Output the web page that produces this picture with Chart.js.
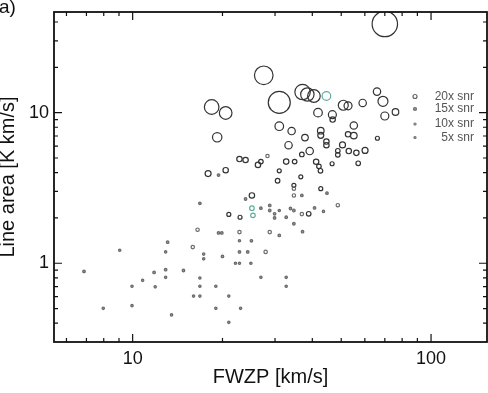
<!DOCTYPE html>
<html>
<head>
<meta charset="utf-8">
<script src="https://cdn.jsdelivr.net/npm/chart.js@4/dist/chart.umd.min.js"></script>
<style>
  body { margin: 0; background: #fff; }
  canvas { display: block; }
</style>
</head>
<body>
<canvas id="snrChart" width="488" height="393"></canvas>
<script>
// FWZP [km/s], line area [K km/s], signal-to-noise ratio
const fwzp = [70.0, 27.5, 31.0, 18.4, 20.5, 37.1, 38.5, 40.5, 50.8, 52.7, 59.0, 65.9, 69.0, 76.0, 70.0, 41.8, 46.7, 46.8,
    19.2, 31.0, 34.1, 37.8, 42.7, 42.7, 44.6, 44.6, 33.3, 39.2, 55.1, 52.7, 55.1, 50.5, 48.7, 48.7, 53.0, 56.2, 60.1, 57.0,
    46.6, 66.1, 41.2, 42.1, 42.6, 36.9, 34.9, 32.7, 31.0, 30.6, 28.3, 26.9, 26.3, 23.9, 22.8, 20.5, 19.4, 17.9, 25.1, 23.9,
    34.7, 34.7, 36.6, 42.7, 44.8, 34.7, 36.9, 48.7, 40.7, 43.6, 38.9, 36.9, 33.8, 34.7, 32.7, 31.0, 29.9, 29.9, 28.8, 28.8,
    26.9, 22.9, 21.0, 34.7, 37.1, 31.0, 28.8, 25.0, 22.8, 22.8, 16.5, 19.4, 19.9, 16.8, 15.9, 22.8, 24.3, 27.9, 20.0, 17.3,
    17.3, 22.1, 22.8, 24.9, 13.1, 12.9, 12.9, 12.9, 14.8, 11.8, 10.8, 11.9, 9.95, 9.05, 6.87, 7.97, 9.95, 13.5, 16.0, 16.8,
    16.8, 16.8, 19.0, 19.0, 21.0, 21.0, 23.0, 26.9, 32.7, 32.7];
const lineArea = [38.8, 17.7, 11.7, 10.9, 9.95, 13.7, 13.2, 12.9, 11.2, 11.1, 11.6, 13.8, 11.9, 10.1, 9.5, 10.0, 9.7, 9.0,
    6.86, 8.13, 7.55, 6.83, 7.59, 7.07, 6.43, 6.08, 6.08, 5.56, 8.22, 7.18, 7.04, 6.11, 5.58, 5.25, 5.56, 5.41, 5.61, 4.61,
    4.58, 6.76, 4.72, 4.40, 4.11, 5.28, 4.73, 4.73, 4.11, 3.53, 5.15, 4.73, 4.50, 4.85, 4.92, 4.15, 3.85, 3.94, 2.82, 2.67,
    3.29, 3.13, 3.75, 3.13, 2.92, 2.82, 2.82, 2.43, 2.33, 2.21, 2.13, 2.12, 2.31, 2.24, 2.02, 2.24, 2.13, 2.00, 2.42, 2.24,
    2.32, 2.02, 2.11, 1.83, 1.62, 1.53, 1.61, 1.41, 1.61, 1.41, 1.67, 1.59, 1.59, 2.50, 1.28, 1.19, 1.19, 1.19, 1.11, 1.15,
    1.07, 1.0, 1.0, 1.0, 1.38, 1.19, 0.906, 0.806, 0.895, 0.869, 0.770, 0.697, 0.703, 1.22, 0.883, 0.502, 0.523, 0.454, 0.605, 0.605,
    0.703, 0.798, 0.703, 0.502, 0.605, 0.405, 0.502, 0.806, 0.806, 0.703];
const snr = [127, 93, 110, 73, 63, 77, 67, 63, 50, 40, 37, 37, 50, 33, 40, 43, 40, 27,
    47, 43, 37, 33, 33, 30, 27, 27, 37, 37, 37, 27, 33, 30, 23, 23, 27, 27, 30, 23,
    20, 20, 27, 23, 23, 23, 23, 27, 20, 23, 17, 23, 27, 27, 27, 27, 13, 30, 27, 13,
    20, 17, 20, 20, 13, 17, 13, 17, 13, 10, 23, 17, 13, 13, 13, 10, 13, 13, 13, 13,
    13, 20, 20, 13, 13, 13, 17, 13, 17, 10, 17, 13, 13, 13, 17, 13, 13, 17, 13, 10,
    10, 10, 10, 10, 13, 10, 13, 10, 13, 13, 10, 10, 7, 7, 13, 7, 7, 7, 7, 7,
    7, 10, 7, 7, 7, 7, 7, 7, 7, 7];

// sources drawn in green-blue
const hlFwzp = [44.6, 25.1, 25.3];
const hlArea = [12.9, 2.32, 2.08];
const hlSnr = [43, 23, 23];

const legendLabels = ['20x snr', '15x snr', '10x snr', '5x snr'];
const legendSnr = [20, 15, 10, 5];

const xTickLabels = [10, 100];
const yTickLabels = [1, 10];
const xMinorTicks = [6, 7, 8, 9, 20, 30, 40, 50, 60, 70, 80, 90];
const yMinorTicks = [0.4, 0.5, 0.6, 0.7, 0.8, 0.9, 2, 3, 4, 5, 6, 7, 8, 9, 20, 30, 40];

const FONT = 'Liberation Sans, Arial, sans-serif';

function toPoints(xs, ys) {
    return xs.map((x, i) => ({ x: x, y: ys[i] }));
}

function radiusFrom(list) {
    return ctx => Math.max(1.2, list[ctx.dataIndex] / 10);
}

function noPad(s) {
    s.paddingLeft = 0; s.paddingRight = 0;
    s.paddingTop = 0; s.paddingBottom = 0;
}

// IDL style box with inward ticks, panel tag and snr legend
const boxPlugin = {
    id: 'boxPlugin',
    afterDraw(chart) {
        const { ctx, chartArea: a, scales } = chart;
        const xs = scales.x, ys = scales.y;
        ctx.save();
        ctx.strokeStyle = '#111';
        ctx.lineWidth = 1.8;
        ctx.strokeRect(a.left, a.top, a.right - a.left, a.bottom - a.top);

        ctx.lineWidth = 1.2;
        const tickX = (v, len) => {
            const px = xs.getPixelForValue(v);
            ctx.beginPath();
            ctx.moveTo(px, a.bottom); ctx.lineTo(px, a.bottom - len);
            ctx.moveTo(px, a.top); ctx.lineTo(px, a.top + len);
            ctx.stroke();
        };
        const tickY = (v, len) => {
            const py = ys.getPixelForValue(v);
            ctx.beginPath();
            ctx.moveTo(a.left, py); ctx.lineTo(a.left + len, py);
            ctx.moveTo(a.right, py); ctx.lineTo(a.right - len, py);
            ctx.stroke();
        };
        xTickLabels.forEach(v => tickX(v, 8));
        xMinorTicks.forEach(v => tickX(v, 4));
        yTickLabels.forEach(v => tickY(v, 8));
        yMinorTicks.forEach(v => tickY(v, 4));

        // panel tag
        ctx.fillStyle = '#111';
        ctx.font = '19px ' + FONT;
        ctx.textAlign = 'left';
        ctx.textBaseline = 'alphabetic';
        ctx.fillText('a)', -1, 13);

        // legend
        const rowY = [96.5, 109, 124, 137.5];
        ctx.font = '12px ' + FONT;
        ctx.textAlign = 'right';
        ctx.textBaseline = 'middle';
        legendLabels.forEach((label, i) => {
            ctx.fillStyle = '#555';
            ctx.fillText(label, 474, rowY[i]);
            ctx.beginPath();
            ctx.arc(415, rowY[i], Math.max(1, legendSnr[i] / 10), 0, Math.PI * 2);
            ctx.strokeStyle = '#666';
            ctx.lineWidth = 1.2;
            ctx.stroke();
            if (legendSnr[i] < 20) { ctx.fillStyle = '#888'; ctx.fill(); }
        });
        ctx.restore();
    }
};

new Chart(document.getElementById('snrChart'), {
    type: 'scatter',
    data: {
        datasets: [{
            label: 'sources',
            data: toPoints(fwzp, lineArea),
            pointRadius: radiusFrom(snr),
            borderColor: ctx => snr[ctx.dataIndex] < 20 ? '#6a6a6a' : '#333',
            backgroundColor: ctx => snr[ctx.dataIndex] < 15 ? '#999' : 'rgba(0,0,0,0)',
            borderWidth: 1.2
        }, {
            label: 'highlighted',
            data: toPoints(hlFwzp, hlArea),
            pointRadius: radiusFrom(hlSnr),
            borderColor: '#5fae9c',
            backgroundColor: 'rgba(0,0,0,0)',
            borderWidth: 1.2
        }]
    },
    options: {
        responsive: false,
        animation: false,
        devicePixelRatio: 1,
        events: [],
        layout: { autoPadding: false, padding: { top: 12, right: 1, left: 0, bottom: 0 } },
        plugins: { legend: { display: false }, tooltip: { enabled: false } },
        scales: {
            x: {
                type: 'logarithmic',
                min: 5.45,
                max: 154,
                afterBuildTicks: s => { s.ticks = xTickLabels.map(v => ({ value: v })); },
                afterFit: s => { s.height = 51; noPad(s); },
                grid: { display: false, drawTicks: false },
                border: { display: false },
                ticks: {
                    autoSkip: false,
                    maxRotation: 0,
                    padding: 6,
                    color: '#111',
                    font: { family: FONT, size: 18 },
                    callback: v => String(v)
                },
                title: {
                    display: true,
                    text: 'FWZP [km/s]',
                    color: '#111',
                    padding: { top: 0, bottom: 4 },
                    font: { family: FONT, size: 20 }
                }
            },
            y: {
                type: 'logarithmic',
                min: 0.32,
                max: 46.6,
                afterBuildTicks: s => { s.ticks = yTickLabels.map(v => ({ value: v })); },
                afterFit: s => { s.width = 54; noPad(s); },
                grid: { display: false, drawTicks: false },
                border: { display: false },
                ticks: {
                    autoSkip: false,
                    padding: 5,
                    color: '#111',
                    font: { family: FONT, size: 18 },
                    callback: v => String(v)
                },
                title: {
                    display: true,
                    text: 'Line area [K km/s]',
                    color: '#111',
                    padding: 0,
                    font: { family: FONT, size: 20, lineHeight: 0.8 }
                }
            }
        }
    },
    plugins: [boxPlugin]
});
</script>
</body>
</html>
